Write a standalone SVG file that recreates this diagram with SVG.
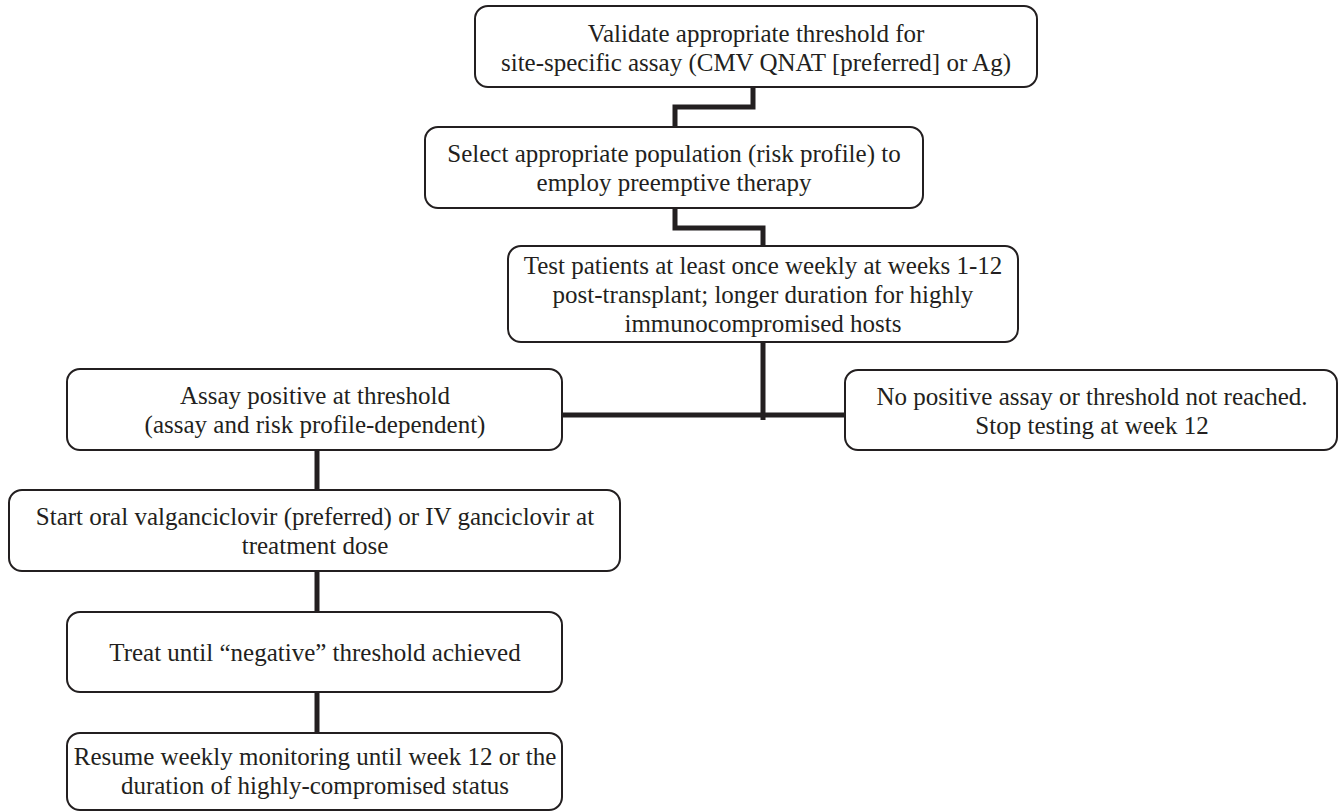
<svg xmlns="http://www.w3.org/2000/svg" width="1342" height="812" viewBox="0 0 1342 812">
<style>
.box{fill:#fff;stroke:#231f20;stroke-width:2}
.t{font-family:"Liberation Serif","Times New Roman",serif;font-size:25px;fill:#231f20;text-anchor:middle}
.c{fill:none;stroke:#231f20;stroke-width:5;stroke-linejoin:miter}
</style>
<rect width="1342" height="812" fill="#fff"/>
<g id="connectors">
<polyline class="c" points="753,87 753,107 675,107 675,127"/>
<polyline class="c" points="675,208 675,228 763,228 763,246"/>
<polyline class="c" points="763,342 763,420"/>
<polyline class="c" points="562,415 845,415"/>
<polyline class="c" points="317,450 317,490"/>
<polyline class="c" points="317,571 317,612"/>
<polyline class="c" points="317,692 317,733"/>
</g>
<g id="n1">
<rect class="box" x="475" y="6" width="562" height="81" rx="13"/>
<text class="t" x="756" y="41.5">Validate appropriate threshold for</text>
<text class="t" x="756" y="70.5">site-specific assay (CMV QNAT [preferred] or Ag)</text>
</g>
<g id="n2">
<rect class="box" x="425" y="127" width="498" height="81" rx="13"/>
<text class="t" x="674" y="161.5">Select appropriate population (risk profile) to</text>
<text class="t" x="674" y="190.5">employ preemptive therapy</text>
</g>
<g id="n3">
<rect class="box" x="508" y="246" width="510" height="96" rx="13"/>
<text class="t" x="763" y="273.5">Test patients at least once weekly at weeks 1-12</text>
<text class="t" x="763" y="302.5">post-transplant; longer duration for highly</text>
<text class="t" x="763" y="331.5">immunocompromised hosts</text>
</g>
<g id="n4">
<rect class="box" x="67" y="369" width="495" height="81" rx="13"/>
<text class="t" x="315" y="404">Assay positive at threshold</text>
<text class="t" x="315" y="433">(assay and risk profile-dependent)</text>
</g>
<g id="n5">
<rect class="box" x="845" y="370" width="492" height="80" rx="13"/>
<text class="t" x="1092" y="405">No positive assay or threshold not reached.</text>
<text class="t" x="1092" y="434">Stop testing at week 12</text>
</g>
<g id="n6">
<rect class="box" x="9" y="490" width="611" height="81" rx="13"/>
<text class="t" x="315" y="524.5">Start oral valganciclovir (preferred) or IV ganciclovir at</text>
<text class="t" x="315" y="553.5">treatment dose</text>
</g>
<g id="n7">
<rect class="box" x="67" y="612" width="495" height="80" rx="13"/>
<text class="t" x="315" y="660.5">Treat until “negative” threshold achieved</text>
</g>
<g id="n8">
<rect class="box" x="67" y="733" width="495" height="77" rx="13"/>
<text class="t" x="315" y="765">Resume weekly monitoring until week 12 or the</text>
<text class="t" x="315" y="794">duration of highly-compromised status</text>
</g>
</svg>
